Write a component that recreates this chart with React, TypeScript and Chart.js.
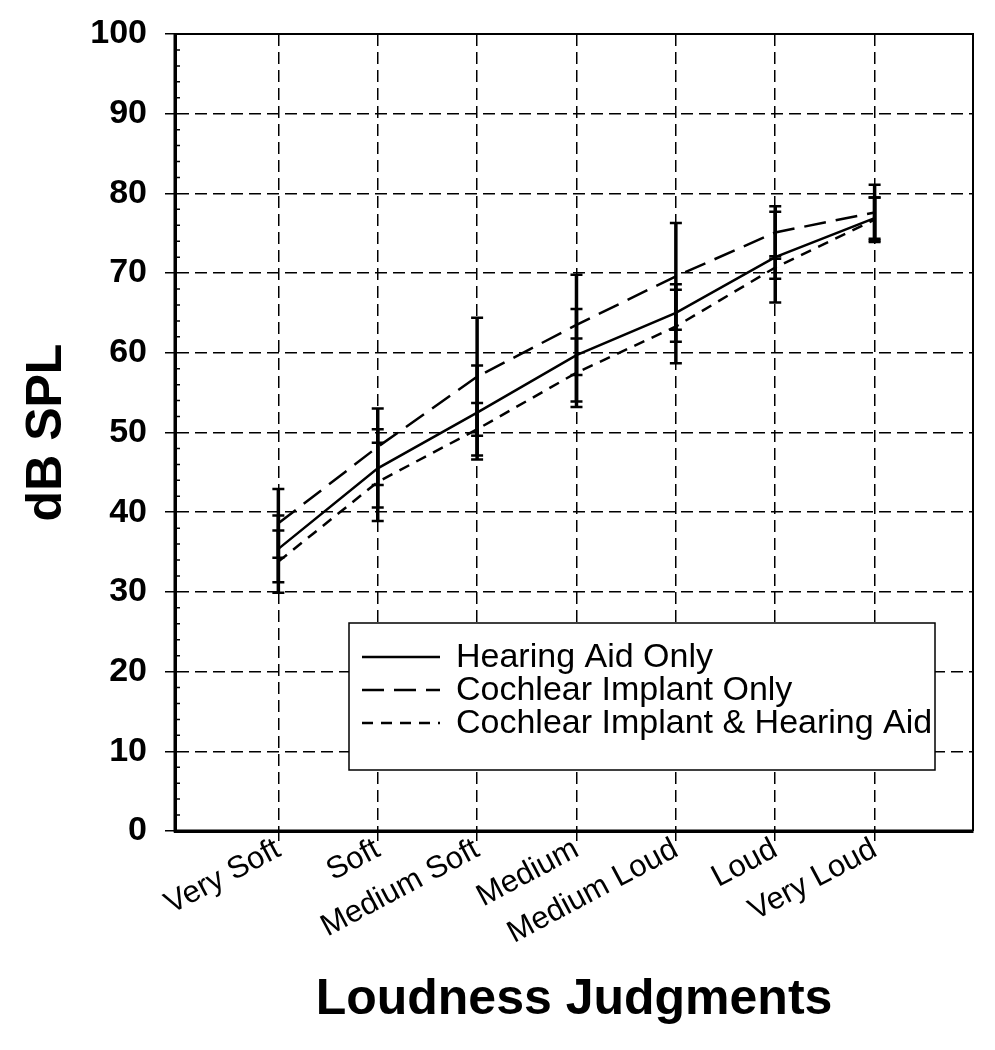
import React, { useEffect, useRef } from 'react';
import { Chart, registerables } from 'chart.js';

Chart.register(...registerables);

const FONT = 'Liberation Sans, Arial, Helvetica, sans-serif';

const categories = ['Very Soft', 'Soft', 'Medium Soft', 'Medium', 'Medium Loud', 'Loud', 'Very Loud'];
const yTickValues = [0, 10, 20, 30, 40, 50, 60, 70, 80, 90, 100];

const hearingAidOnly = [35.4, 45.5, 52.5, 59.7, 65.0, 72.0, 76.9];
const hearingAidOnlyErr = [4.2, 4.9, 5.9, 5.8, 3.6, 5.7, 2.6];

const cochlearImplantOnly = [38.6, 48.2, 57.0, 63.5, 69.6, 75.1, 77.6];
const cochlearImplantOnlyErr = [4.3, 4.8, 7.4, 6.3, 6.7, 3.3, 3.5];

const implantAndAid = [33.8, 43.8, 50.4, 57.5, 63.3, 70.7, 76.7];
const implantAndAidErr = [3.9, 4.9, 3.3, 4.3, 4.6, 1.4, 2.8];

const seriesLabels = ['Hearing Aid Only', 'Cochlear Implant Only', 'Cochlear Implant & Hearing Aid'];
const seriesDashes: number[][] = [[], [22, 10], [11, 8]];

const errorBarPlugin = {
  id: 'errorBars',
  afterDatasetsDraw(chart: any) {
    const { ctx, scales } = chart;
    const x = scales.x;
    const y = scales.y;
    ctx.save();
    ctx.strokeStyle = '#000';
    ctx.setLineDash([]);
    chart.data.datasets.forEach((ds: any) => {
      const errs = ds.errors as number[];
      ds.data.forEach((pt: any, i: number) => {
        const e = errs[i];
        if (pt == null || e == null) return;
        const px = x.getPixelForValue(pt.x);
        const top = y.getPixelForValue(pt.y + e);
        const bot = y.getPixelForValue(pt.y - e);
        ctx.lineWidth = 3.5;
        ctx.beginPath();
        ctx.moveTo(px, top);
        ctx.lineTo(px, bot);
        ctx.stroke();
        ctx.lineWidth = 2.5;
        ctx.beginPath();
        ctx.moveTo(px - 6, top);
        ctx.lineTo(px + 6, top);
        ctx.moveTo(px - 6, bot);
        ctx.lineTo(px + 6, bot);
        ctx.stroke();
      });
    });
    ctx.restore();
  },
};

const framePlugin = {
  id: 'frame',
  beforeDatasetsDraw(chart: any) {
    const { ctx, chartArea, scales } = chart;
    const { left, top, right, bottom } = chartArea;
    ctx.save();
    ctx.setLineDash([]);
    ctx.strokeStyle = '#000';
    ctx.lineWidth = 2;
    ctx.beginPath();
    ctx.moveTo(left, top);
    ctx.lineTo(right, top);
    ctx.lineTo(right, bottom);
    ctx.stroke();
    ctx.lineWidth = 3;
    ctx.beginPath();
    ctx.moveTo(left, top);
    ctx.lineTo(left, bottom);
    ctx.lineTo(right, bottom);
    ctx.stroke();
    // minor ticks on the y axis
    const y = scales.y;
    ctx.lineWidth = 1.5;
    ctx.beginPath();
    for (let v = 2; v < 100; v += 2) {
      if (v % 10 === 0) continue;
      const py = y.getPixelForValue(v);
      ctx.moveTo(left, py);
      ctx.lineTo(left + 5, py);
    }
    ctx.stroke();
    ctx.restore();
  },
};

const legendBoxPlugin = {
  id: 'legendBox',
  afterDraw(chart: any) {
    const { ctx, chartArea } = chart;
    const bx = chartArea.left + 174;
    const by = chartArea.top + 589;
    const bw = 586;
    const bh = 147;
    ctx.save();
    ctx.fillStyle = '#fff';
    ctx.fillRect(bx, by, bw, bh);
    ctx.strokeStyle = '#000';
    ctx.lineWidth = 1.5;
    ctx.setLineDash([]);
    ctx.strokeRect(bx, by, bw, bh);
    ctx.font = `34px ${FONT}`;
    ctx.textBaseline = 'middle';
    ctx.textAlign = 'left';
    ctx.fillStyle = '#000';
    chart.data.datasets.forEach((ds: any, i: number) => {
      const ry = by + 34 + i * 33;
      ctx.lineWidth = 2.5;
      ctx.setLineDash(ds.borderDash || []);
      ctx.beginPath();
      ctx.moveTo(bx + 13, ry);
      ctx.lineTo(bx + 91, ry);
      ctx.stroke();
      ctx.setLineDash([]);
      ctx.fillText(ds.label, bx + 107, ry + 1);
    });
    ctx.restore();
  },
};

export default function App() {
  const canvasRef = useRef<HTMLCanvasElement | null>(null);

  useEffect(() => {
    if (!canvasRef.current) return;
    const values = [hearingAidOnly, cochlearImplantOnly, implantAndAid];
    const errs = [hearingAidOnlyErr, cochlearImplantOnlyErr, implantAndAidErr];
    const chart = new Chart(canvasRef.current, {
      type: 'line',
      data: {
        datasets: values.map((vals, i) => ({
          label: seriesLabels[i],
          data: vals.map((v, j) => ({ x: j + 1, y: v })),
          errors: errs[i],
          borderColor: '#000',
          backgroundColor: '#000',
          borderWidth: 2.5,
          borderDash: seriesDashes[i],
          pointRadius: 0,
          tension: 0,
          fill: false,
        })) as any,
      },
      options: {
        animation: false,
        responsive: true,
        maintainAspectRatio: false,
        layout: { padding: { top: 26, right: 14, left: 0, bottom: 0 } },
        plugins: {
          legend: { display: false },
          tooltip: { enabled: false },
        },
        scales: {
          x: {
            type: 'linear',
            min: -0.04,
            max: 7.99,
            afterBuildTicks: (axis: any) => {
              axis.ticks = categories.map((_, i) => ({ value: i + 1 }));
            },
            grid: {
              color: '#000',
              lineWidth: 1.5,
              tickLength: 10,
              tickColor: '#000',
              tickWidth: 1.5,
              tickBorderDash: [],
            } as any,
            border: { display: true, color: '#000', width: 3, dash: [12, 6] },
            ticks: {
              color: '#000',
              font: { family: FONT, size: 31 },
              minRotation: 28,
              maxRotation: 28,
              autoSkip: false,
              padding: -10,
              callback: (_v: any, index: number) => categories[index],
            },
            title: {
              display: true,
              text: 'Loudness Judgments',
              color: '#000',
              font: { family: FONT, size: 50, weight: 'bold' },
              padding: { top: 0, bottom: 12 },
            },
            afterFit: (s: any) => {
              s.height = 211;
              s.paddingLeft = 0;
              s.paddingRight = 0;
            },
          },
          y: {
            min: 0,
            max: 100,
            afterBuildTicks: (axis: any) => {
              axis.ticks = yTickValues.map((v) => ({ value: v }));
            },
            grid: {
              color: '#000',
              lineWidth: 1.5,
              tickLength: 10,
              tickColor: '#000',
              tickWidth: 1.5,
              tickBorderDash: [],
            } as any,
            border: { display: true, color: '#000', width: 3, dash: [12, 6] },
            ticks: {
              color: '#000',
              font: { family: FONT, size: 34, weight: 'bold' },
              padding: 18,
            },
            title: {
              display: true,
              text: 'dB SPL',
              color: '#000',
              font: { family: FONT, size: 50, weight: 'bold' },
              padding: { top: 9, bottom: 0 },
            },
            afterFit: (s: any) => {
              s.width = 167;
              s.paddingTop = 0;
              s.paddingBottom = 0;
            },
          },
        },
      },
      plugins: [framePlugin, errorBarPlugin, legendBoxPlugin],
    });
    return () => chart.destroy();
  }, []);

  return (
    <div style={{ width: 979, height: 1034, position: 'relative', background: '#fff' }}>
      <canvas ref={canvasRef} />
    </div>
  );
}
